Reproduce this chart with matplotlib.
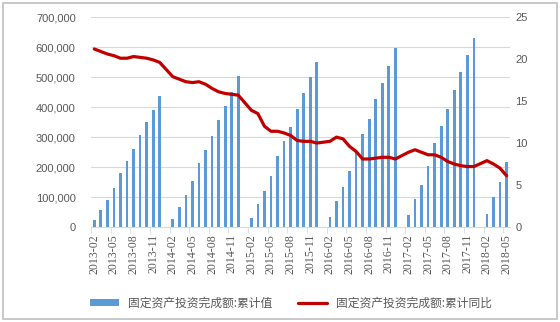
import numpy as np
import matplotlib
matplotlib.use('Agg')
import matplotlib.pyplot as plt
from matplotlib.patches import Rectangle
from matplotlib.ticker import FuncFormatter, FixedLocator

plt.rcParams['font.family'] = ['Liberation Sans', 'Noto Sans CJK SC', 'DejaVu Sans']

# monthly categories 2013-02 .. 2018-05 (January has no release)
months = []
for y in range(2013, 2019):
    for m in range(1, 13):
        if (y, m) < (2013, 2) or (y, m) > (2018, 5):
            continue
        months.append(f'{y}-{m:02d}')

# cumulative value by year, Feb..Dec (100 million yuan)
cum_2013 = [22670, 58092, 91148, 130599, 181318, 218860, 258964, 306245, 351740, 391283, 436528]
cum_2014 = [25229, 68322, 106214, 152117, 212736, 257433, 301960, 355562, 402942, 451235, 502005]
cum_2015 = [28602, 77511, 119981, 169845, 237132, 286121, 334502, 394531, 447425, 499886, 551590]
cum_2016 = [31891, 85843, 132065, 187671, 258360, 310331, 361033, 426906, 481396, 538176, 596501]
cum_2017 = [41378, 93777, 139670, 203970, 280605, 337411, 394150, 458478, 517818, 575057, 631684]
cum_2018 = [44636, 100763, 149450, 216410]

# cumulative YoY growth (%)
yoy_2013 = [21.2, 20.9, 20.6, 20.4, 20.1, 20.1, 20.3, 20.2, 20.1, 19.9, 19.6]
yoy_2014 = [17.9, 17.6, 17.3, 17.2, 17.3, 17.0, 16.5, 16.1, 15.9, 15.8, 15.7]
yoy_2015 = [13.9, 13.5, 12.0, 11.4, 11.4, 11.2, 10.9, 10.3, 10.2, 10.2, 10.0]
yoy_2016 = [10.2, 10.7, 10.5, 9.6, 9.0, 8.1, 8.1, 8.2, 8.3, 8.3, 8.1]
yoy_2017 = [8.9, 9.2, 8.9, 8.6, 8.6, 8.3, 7.8, 7.5, 7.3, 7.2, 7.2]
yoy_2018 = [7.9, 7.5, 7.0, 6.1]

def with_jan_gaps(parts):
    out = []
    for i, p in enumerate(parts):
        if i > 0:
            out.append(np.nan)
        out.extend(p)
    return np.array(out, dtype=float)

cum = with_jan_gaps([cum_2013, cum_2014, cum_2015, cum_2016, cum_2017, cum_2018])
yoy = with_jan_gaps([yoy_2013, yoy_2014, yoy_2015, yoy_2016, yoy_2017, yoy_2018])
x = np.arange(len(months))

bar_name = '固定资产投资完成额:累计值'
line_name = '固定资产投资完成额:累计同比'

grey = '#595959'
grid = '#D9D9D9'

fig = plt.figure(figsize=(5.6, 3.22), dpi=100)
ax = fig.add_axes([0.1625, 0.295, 0.748, 0.652])
ax2 = ax.twinx()

ok = ~np.isnan(cum)
ax.bar(x[ok], cum[ok], width=0.42, color='#5B9BD5', label=bar_name, zorder=2)
ok2 = ~np.isnan(yoy)
ax2.plot(x[ok2], yoy[ok2], color='#C00000', lw=2.3, label=line_name,
         solid_joinstyle='round', solid_capstyle='round', zorder=3)

ax.set_xlim(-0.5, len(months) - 0.5)
ax.set_ylim(0, 700000)
ax.set_yticks(np.arange(0, 700001, 100000))
ax.yaxis.set_major_formatter(FuncFormatter(lambda v, p: f'{int(v):,}'))
ax2.set_ylim(0, 25)
ax2.set_yticks(np.arange(0, 26, 5))

ax.grid(axis='y', color=grid, lw=0.8, zorder=0)
ax.set_axisbelow(True)

for a in (ax, ax2):
    for s in a.spines.values():
        s.set_visible(False)
ax.spines['bottom'].set_visible(True)
ax.spines['bottom'].set_color(grid)

ax.set_xticks(x[::3])
ax.set_xticklabels(months[::3], rotation=90, fontsize=8.6,
                   family=['Liberation Serif', 'DejaVu Serif'], color=grey)
ax.xaxis.set_minor_locator(FixedLocator(np.arange(-0.5, len(months), 3)))
ax.tick_params(axis='x', which='major', length=0, pad=5)
ax.tick_params(axis='x', which='minor', length=4, color=grid)
ax.tick_params(axis='y', length=0, labelsize=8, labelcolor=grey, pad=11)
ax2.tick_params(axis='y', length=0, labelsize=8, labelcolor=grey, pad=4)

h1, l1 = ax.get_legend_handles_labels()
h2, l2 = ax2.get_legend_handles_labels()
leg = fig.legend(h1 + h2, l1 + l2, loc='center', bbox_to_anchor=(0.52, 0.058),
                 ncol=2, frameon=False, handlelength=2.4,
                 handleheight=0.5, columnspacing=2.2,
                 prop={'family': ['Noto Sans CJK SC', 'DejaVu Sans'], 'size': 8.5})
for t in leg.get_texts():
    t.set_color(grey)

fig.patches.append(Rectangle((3 / 560, 3 / 322), 554 / 560, 316 / 322,
                             transform=fig.transFigure, fill=False,
                             edgecolor='#BFBFBF', lw=1.2))

fig.savefig('out.png', dpi=100, facecolor='white')
